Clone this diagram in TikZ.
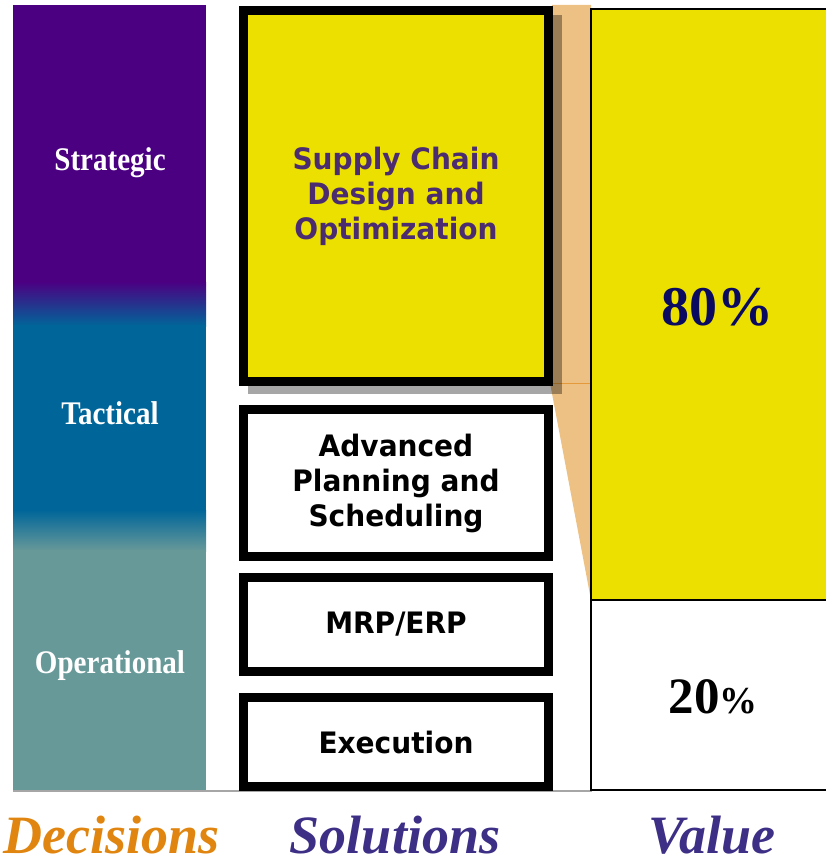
\documentclass[tikz,border=0pt]{standalone}
\usepackage{fontspec}
\setmainfont{Liberation Serif}
\newfontfamily\tah{DejaVu Sans}[FakeStretch=0.95]
\newfontfamily\narrowserif{Liberation Serif}[FakeStretch=0.88]
\definecolor{cpurple}{HTML}{4B0082}
\definecolor{cblue}{HTML}{006699}
\definecolor{cteal}{HTML}{689999}
\definecolor{cyellow}{HTML}{EBE000}
\definecolor{corange}{HTML}{EDC083}
\definecolor{corangeline}{HTML}{E49A3A}
\definecolor{ctextpurple}{HTML}{4B2C70}
\definecolor{clabelpurple}{HTML}{3C2F85}
\definecolor{cnavy}{HTML}{0A0A60}
\definecolor{cdecisions}{HTML}{E0850F}
\begin{document}
\begin{tikzpicture}[x=1pt,y=-1pt,
  solbox/.style={draw=black,line width=9pt,minimum width=305pt,align=center,
    inner sep=0pt,font=\tah\bfseries\fontsize{29.5}{35}\selectfont},
  levellabel/.style={text=white,font=\narrowserif\bfseries\fontsize{33}{36}\selectfont},
  footlabel/.style={font=\bfseries\itshape\fontsize{54}{58}\selectfont,anchor=base}]
\useasboundingbox (0,0) rectangle (825,866);
% left decision bar
\fill[cpurple] (13,5) rectangle (206,283);
\shade[top color=cpurple,bottom color=cblue] (13,282) rectangle (206,326);
\fill[cblue] (13,325) rectangle (206,511);
\shade[top color=cblue,bottom color=cteal] (13,510) rectangle (206,551);
\fill[cteal] (13,550) rectangle (206,790);
\node[levellabel] (strat) at (110,163) {Strategic};
\node[levellabel] (tact) at (110,413) {Tactical};
\node[levellabel] (oper) at (110,666) {Operational};
% baseline
\draw[gray!70,line width=2pt] (13,791) -- (592,791);
% orange band
\fill[corange] (552,5) -- (591,5) -- (591,600) -- (550,383) -- cycle;
\draw[corangeline,line width=1pt] (550,383) -- (591,383);
% value column
\fill[cyellow] (591,9) rectangle (830,600);
\draw[black,line width=1.5pt] (591,9) rectangle (830,790);
\draw[black,line width=1.5pt] (591,600) -- (830,600);
\node[text=cnavy,font=\bfseries\fontsize{56}{60}\selectfont,anchor=base] (v80) at (717,325) {80\%};
\node[anchor=base,font=\bfseries\fontsize{51}{56}\selectfont] (v20) at (713,713) {20{\fontsize{38}{40}\selectfont\%}};
% shadow of yellow box
\fill[black,opacity=0.35] (248,15) rectangle (562,394);
% solution boxes
\node[solbox,fill=cyellow,text=ctextpurple,minimum height=371pt] (scd) at (396,196)
  {Supply Chain\\Design and\\Optimization};
\node[solbox,fill=white,text=black,minimum height=147pt] (aps) at (396,483)
  {Advanced\\Planning and\\Scheduling};
\node[solbox,fill=white,text=black,minimum height=94pt] (mrp) at (396,624.5) {MRP/ERP};
\node[solbox,fill=white,text=black,minimum height=89pt] (exe) at (396,742) {Execution};
% footer labels
\node[footlabel,text=cdecisions] (dec) at (112,853) {Decisions};
\node[footlabel,text=clabelpurple] (sol) at (395,853) {Solutions};
\node[footlabel,text=clabelpurple] (val) at (712,853) {Value};
\end{tikzpicture}
\end{document}
